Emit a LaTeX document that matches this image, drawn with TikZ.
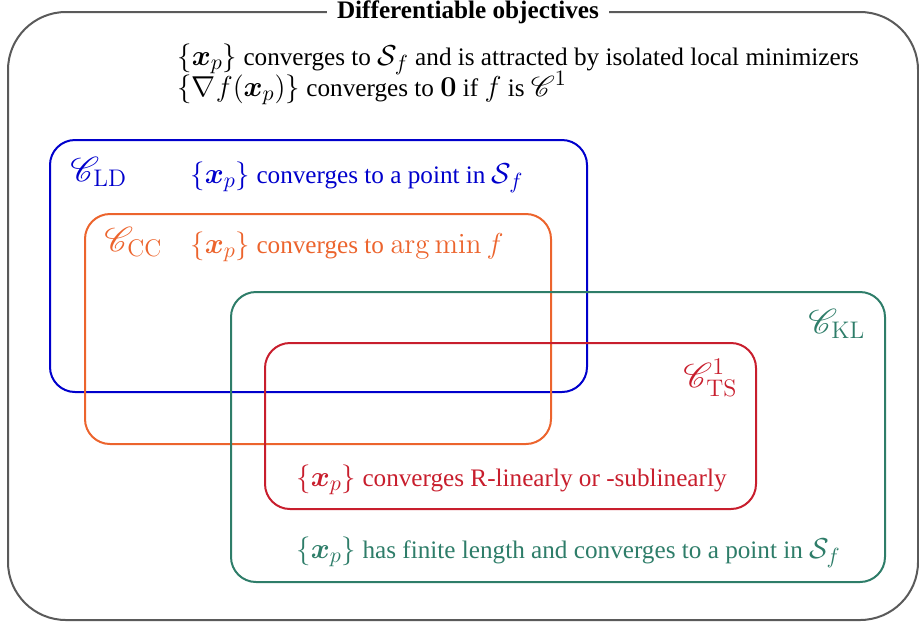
\documentclass[tikz,border=0pt]{standalone}
\usepackage{amsmath,amssymb,bm}
\usepackage{mathrsfs}
\usepackage[no-math]{fontspec}
\setmainfont{Liberation Serif}
\DeclareMathSizes{12.6}{15}{11}{8}
\DeclareMathSizes{14.4}{17.4}{12.6}{9}
\definecolor{cgray}{RGB}{90,90,90}
\definecolor{cblue}{RGB}{0,0,204}
\definecolor{corange}{RGB}{236,100,45}
\definecolor{cgreen}{RGB}{46,125,105}
\definecolor{cred}{RGB}{200,30,45}
\begin{document}
\begin{tikzpicture}[x=0.5pt,y=-0.5pt,
  setbox/.style={line width=1pt,rounded corners=12.5pt},
  txt/.style={anchor=base west,inner sep=0pt,font=\fontsize{12.6}{15}\selectfont},
  lbl/.style={anchor=base west,inner sep=0pt,font=\fontsize{14.4}{17}\selectfont}]
\useasboundingbox (0,0) rectangle (919,622);
\draw[cgray,line width=1pt,rounded corners=29pt] (8,12) rectangle (918,620);
\node[fill=white,inner xsep=5pt,inner ysep=2pt,font=\fontsize{12.6}{15}\selectfont\bfseries] (title) at (468,12) {Differentiable objectives};
\node[txt] (l1) at (177,65) {$\{\bm{x}_p\}$ converges to $\mathcal{S}_f$ and is attracted by isolated local minimizers};
\node[txt] (l2) at (177,96) {$\{\nabla f(\bm{x}_p)\}$ converges to $\mathbf{0}$ if $f$ is $\mathscr{C}^1$};
% boxes
\draw[setbox,cblue] (50,140) rectangle (587,392);
\draw[setbox,corange] (85,214) rectangle (551,444);
\draw[setbox,cgreen] (231,292) rectangle (885,582);
\draw[setbox,cred] (265,343) rectangle (756,509);
% labels
\node[lbl,text=cblue] (ld) at (70,181) {$\mathscr{C}_{\mathrm{LD}}$};
\node[txt,text=cblue] (ldt) at (190,183) {$\{\bm{x}_p\}$ converges to a point in $\mathcal{S}_f$};
\node[lbl,text=corange] (cc) at (104,251) {$\mathscr{C}_{\mathrm{CC}}$};
\node[txt,text=corange] (cct) at (190,253) {$\{\bm{x}_p\}$ converges to $\arg\min f$};
\node[lbl,text=cgreen] (kl) at (808,333) {$\mathscr{C}_{\mathrm{KL}}$};
\node[lbl,text=cred] (ts) at (683,387) {$\mathscr{C}^1_{\mathrm{TS}}$};
\node[txt,text=cred] (tst) at (296,486) {$\{\bm{x}_p\}$ converges R-linearly or -sublinearly};
\node[txt,text=cgreen] (klt) at (296,558) {$\{\bm{x}_p\}$ has finite length and converges to a point in $\mathcal{S}_f$};
\end{tikzpicture}
\end{document}
